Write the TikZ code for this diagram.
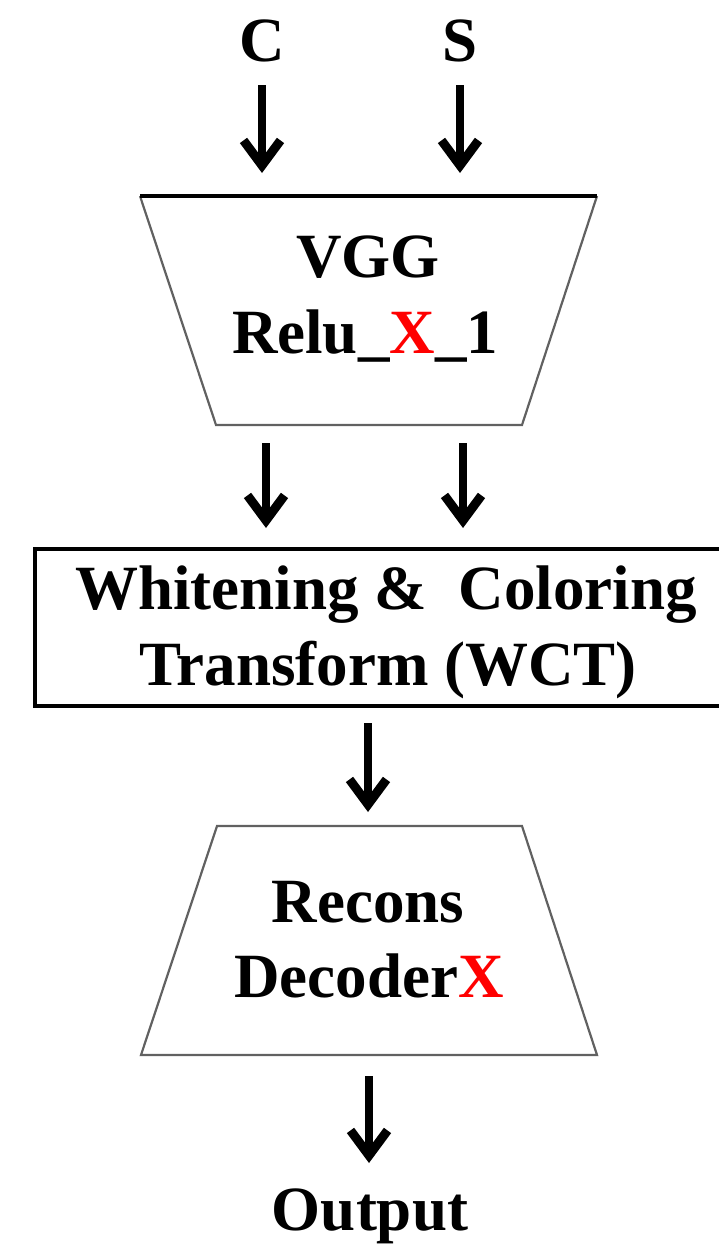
\documentclass[tikz,border=0pt]{standalone}
\usepackage{fontspec}
\setmainfont{Liberation Serif}
\usetikzlibrary{arrows.meta}
\begin{document}
\begin{tikzpicture}[x=1pt,y=-1pt,
  lbl/.style={font=\fontsize{63}{76}\selectfont\bfseries, anchor=base, inner sep=0pt},
  flow/.style={line width=8.5pt, -{Straight Barb[length=25pt,width=37pt,line width=9pt]}},
  thinedge/.style={draw=black!62, line width=2.2pt},
  boldedge/.style={draw=black, line width=3.5pt}]
\useasboundingbox (0,0) rectangle (719,1247);

% inputs
\node[lbl] (c) at (262,62) {C};
\node[lbl] (s) at (460,62) {S};

% encoder (wide top)
\coordinate (e1) at (140,196);
\coordinate (e2) at (597,196);
\coordinate (e3) at (522,425);
\coordinate (e4) at (216,425);
\fill[white] (e1) -- (e2) -- (e3) -- (e4) -- cycle;
\draw[thinedge, line join=miter] (e2) -- (e3) -- (e4) -- (e1);
\draw[boldedge] (e1) -- (e2);
\node[lbl] (vgg) at (368,277) {VGG};
\node[lbl] (relu) at (365,353) {Relu\_{\color{red}X}\_1};

% WCT block
\coordinate (w1) at (35,549);
\coordinate (w2) at (730,706);
\draw[line width=4.5pt] (w1) rectangle (w2);
\node[lbl] (wct1) at (386,609) {Whitening \&\ \ Coloring};
\node[lbl] (wct2) at (388,685) {Transform (WCT)};

% decoder (wide bottom)
\coordinate (d1) at (217,826);
\coordinate (d2) at (522,826);
\coordinate (d3) at (597,1055);
\coordinate (d4) at (141,1055);
\draw[thinedge, line join=miter] (d1) -- (d2) -- (d3) -- (d4) -- cycle;
\node[lbl] (recons) at (368,922) {Recons};
\node[lbl] (dec) at (369,997) {Decoder{\color{red}X}};

\node[lbl] (out) at (370,1230) {Output};

% connectors
\coordinate (a1s) at (262,85);  \coordinate (a1e) at (262,173);
\coordinate (a2s) at (460,85);  \coordinate (a2e) at (460,173);
\coordinate (a3s) at (266,443); \coordinate (a3e) at (266,528);
\coordinate (a4s) at (463,443); \coordinate (a4e) at (463,528);
\coordinate (a5s) at (368,723); \coordinate (a5e) at (368,812);
\coordinate (a6s) at (369,1076); \coordinate (a6e) at (369,1163);
\draw[flow] (a1s) -- (a1e);
\draw[flow] (a2s) -- (a2e);
\draw[flow] (a3s) -- (a3e);
\draw[flow] (a4s) -- (a4e);
\draw[flow] (a5s) -- (a5e);
\draw[flow] (a6s) -- (a6e);
\end{tikzpicture}
\end{document}
